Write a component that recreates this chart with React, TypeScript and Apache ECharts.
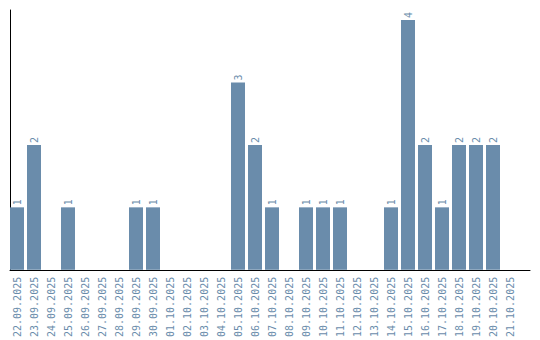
import React, { useEffect, useRef } from "react";
import * as echarts from "echarts";

const categories = [
  "22.09.2025", "23.09.2025", "24.09.2025", "25.09.2025", "26.09.2025",
  "27.09.2025", "28.09.2025", "29.09.2025", "30.09.2025", "01.10.2025",
  "02.10.2025", "03.10.2025", "04.10.2025", "05.10.2025", "06.10.2025",
  "07.10.2025", "08.10.2025", "09.10.2025", "10.10.2025", "11.10.2025",
  "12.10.2025", "13.10.2025", "14.10.2025", "15.10.2025", "16.10.2025",
  "17.10.2025", "18.10.2025", "19.10.2025", "20.10.2025", "21.10.2025",
];
const counts = [
  1, 2, 0, 1, 0, 0, 0, 1, 1, 0,
  0, 0, 0, 3, 2, 1, 0, 1, 1, 1,
  0, 0, 1, 4, 2, 1, 2, 2, 2, 0,
];
const yMax = 4.16;

const BAR = "#6a8cab";
const TEXT = "#6a8cab";
const FONT = "'DejaVu Sans Mono', monospace";

export default function App() {
  const ref = useRef<HTMLDivElement>(null);
  useEffect(() => {
    document.body.style.margin = "0";
    const chart = echarts.init(ref.current!, null, { renderer: "svg" });
    chart.setOption({
      animation: false,
      backgroundColor: "#ffffff",
      grid: [
        { left: 8.5, width: 510, top: 10, bottom: 70 },
        { left: 10, right: 10, top: 10, bottom: 70 },
      ],
      xAxis: [
        {
          type: "category",
          gridIndex: 0,
          data: categories,
          axisLine: { show: false },
          axisTick: { show: false },
          axisLabel: {
            rotate: 90,
            interval: 0,
            margin: 7,
            color: TEXT,
            fontFamily: FONT,
            fontSize: 10,
          },
        },
        {
          type: "value",
          gridIndex: 1,
          min: 0,
          max: 1,
          axisLine: { show: true, lineStyle: { color: "#000", width: 1 } },
          axisTick: { show: false },
          axisLabel: { show: false },
          splitLine: { show: false },
        },
      ],
      yAxis: [
        {
          type: "value",
          gridIndex: 0,
          min: 0,
          max: yMax,
          axisLine: { show: false },
          axisTick: { show: false },
          axisLabel: { show: false },
          splitLine: { show: false },
        },
        {
          type: "value",
          gridIndex: 1,
          min: 0,
          max: 1,
          axisLine: { show: true, lineStyle: { color: "#000", width: 1 } },
          axisTick: { show: false },
          axisLabel: { show: false },
          splitLine: { show: false },
        },
      ],
      series: [
        {
          type: "bar",
          xAxisIndex: 0,
          yAxisIndex: 0,
          data: counts,
          barWidth: 14,
          itemStyle: { color: BAR },
          label: {
            show: true,
            position: "top",
            rotate: 90,
            align: "left",
            verticalAlign: "middle",
            distance: 2,
            color: TEXT,
            fontFamily: FONT,
            fontSize: 10,
            formatter: (p: any) => (p.value ? String(p.value) : ""),
          },
        },
      ],
    });
    return () => chart.dispose();
  }, []);
  return <div ref={ref} style={{ width: 540, height: 340 }} />;
}
